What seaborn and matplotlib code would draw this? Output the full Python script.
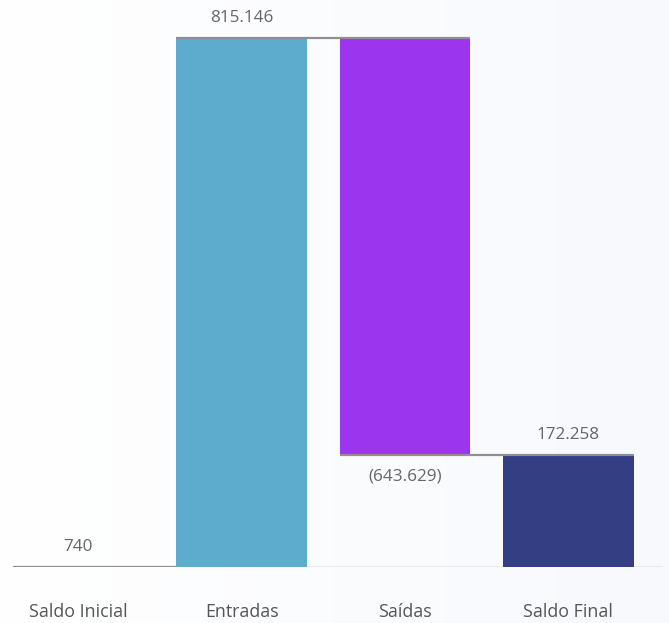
import numpy as np
import matplotlib
matplotlib.use("Agg")
import matplotlib.pyplot as plt
import seaborn as sns
from matplotlib.colors import LinearSegmentedColormap

categories = ["Saldo Inicial", "Entradas", "Saídas", "Saldo Final"]
values = [740, 815146, -643629, 172258]
labels = ["740", "815.146", "(643.629)", "172.258"]
colors = ["#343E83", "#5DABCD", "#9B35EE", "#343E83"]

sns.set_theme(style="white")
plt.rcParams["font.family"] = ["Open Sans", "DejaVu Sans"]

W, H = 669, 623
fig = plt.figure(figsize=(W / 100, H / 100), dpi=100)

# subtle background gradient
bg = fig.add_axes([0, 0, 1, 1], zorder=-10)
grad = np.linspace(0, 1, 256).reshape(1, -1)
cmap = LinearSegmentedColormap.from_list("bg", ["#ffffff", "#f7f9fd"])
bg.imshow(grad, aspect="auto", cmap=cmap, extent=[0, 1, 0, 1])
bg.axis("off")

# waterfall geometry
final = values[0] + values[1] + values[2]
bottoms = [0, values[0], final, 0]
heights = [values[0], values[1], -values[2], final]
ends = [values[0], values[0] + values[1], final, final]

top_px, base_px = 38, 567
ymax = ends[1] * base_px / (base_px - top_px)
ax = fig.add_axes([13 / W, (H - base_px) / H, (663 - 13) / W, base_px / H])
ax.set_facecolor("none")

sns.barplot(x=categories, y=heights, bottom=bottoms, color=colors[0],
            width=0.8, ax=ax, zorder=2)
for p, c in zip(ax.patches, colors):
    p.set_facecolor(c)
    p.set_edgecolor("none")
    p.set_linewidth(0)

ax.set_xlim(-0.4, 3.58)
ax.set_ylim(0, ymax)

# baseline
ax.axhline(0, color="#e6e8ec", lw=1.2, zorder=1)

# connectors
hw = 0.4
conn = [(0 - hw, 1 - hw, ends[0]), (1 - hw, 2 + hw, ends[1]), (2 - hw, 3 + hw, ends[2])]
for x0, x1, yv in conn:
    ax.plot([x0, x1], [yv, yv], color="#8f8f8f", lw=1.6, zorder=3,
            solid_capstyle="butt")

# value labels
off = 20 * ymax / base_px
for i, lab in enumerate(labels):
    if values[i] < 0:
        ax.text(i, bottoms[i] - off - 1.5 * ymax / base_px, lab, ha="center",
                va="center", fontsize=12.3, color="#666666")
    else:
        ax.text(i, ends[i] + off, lab, ha="center", va="center",
                fontsize=12.3, color="#666666")

ax.set_yticks([])
ax.tick_params(axis="x", length=0, pad=26, labelsize=12.8, labelcolor="#555555")
for s in ax.spines.values():
    s.set_visible(False)
ax.set_xlabel("")
ax.set_ylabel("")

fig.savefig("out.png", dpi=100)
